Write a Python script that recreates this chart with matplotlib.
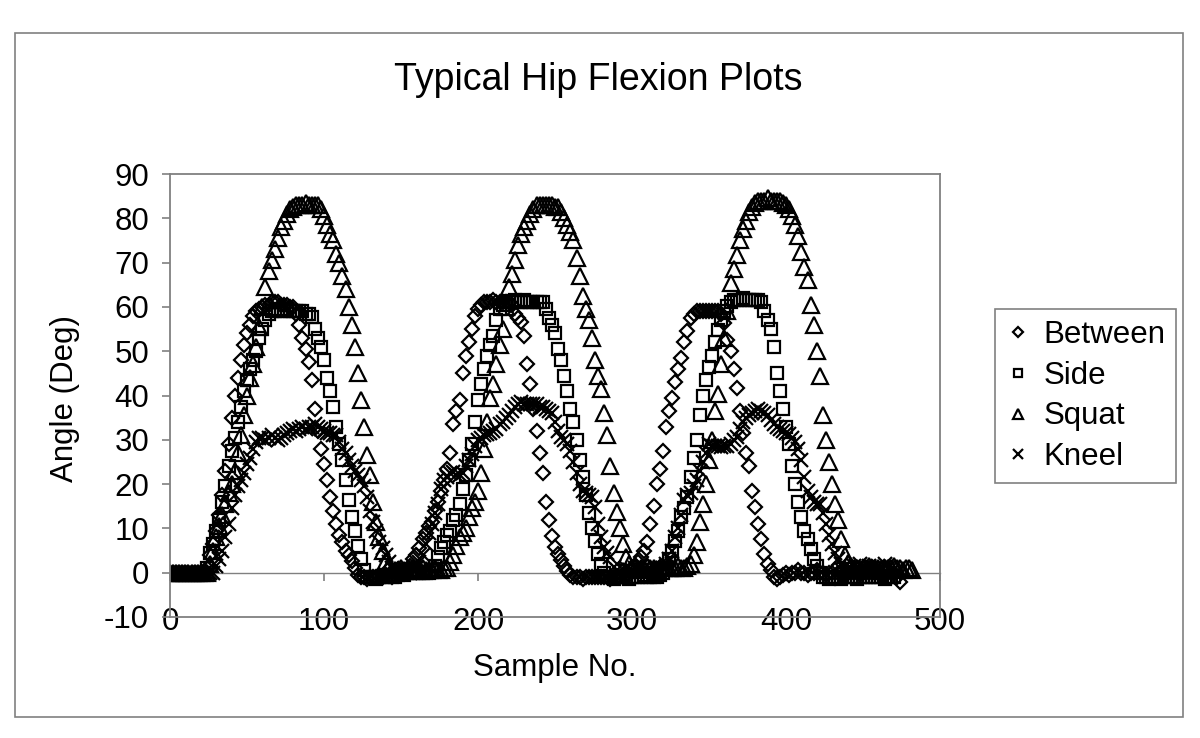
import numpy as np
import matplotlib
matplotlib.use("Agg")
import matplotlib.pyplot as plt
from matplotlib.patches import Rectangle

plt.rcParams['font.family'] = ['Liberation Sans', 'DejaVu Sans']
plt.rcParams['axes.unicode_minus'] = False

# ---- data: hip flexion angle (deg), one reading every 2 samples ----
STEP = 2

between = [
    0, 0, 0, 0, 0, 0, 0, 0, 0, 0,
    0, 0, 1, 4, 6.5, 9.5, 13, 17.5, 23, 29,
    35, 40, 44, 48, 51.5, 54, 56, 58, 59, 59.5,
    60, 60.5, 60.5, 61, 61, 61, 60.5, 60.5, 60.5, 60,
    60, 58.5, 56, 53, 50.6, 47.5, 43.4, 37, 32, 28,
    24.6, 21, 17, 14, 11, 8.5, 7, 5, 4, 2.7,
    1, -0.5, -1, -1, -1.5, -1, -1, -1, -0.5, -1,
    -0.5, -0.5, -1, 0, -0.5, 0, 0, 0.5, 1.5, 3,
    4, 5.5, 7.5, 9, 10.5, 11.5, 14, 16, 18.5, 21,
    23.5, 27, 33.5, 36.5, 38.9, 45, 49, 52, 55, 58,
    59.5, 60.5, 61, 61, 61, 61.5, 61, 61, 61, 61,
    61, 60.5, 58.5, 57.5, 56.5, 53.5, 47, 42.5, 37, 32,
    27, 22.5, 16, 12, 8.3, 5.7, 4.2, 2.8, 1.5, 0.3,
    -0.6, -1, -1, -1, -1.5, -1, -1, -1, -1, -1,
    -1, -1, -1, -1.5, -1, -1, -1, -0.5, -0.5, -0.5,
    0.5, 1.5, 2.5, 3.5, 5, 7, 11, 15, 20, 23.5,
    27.5, 33, 36.5, 39.5, 43, 46, 48.5, 52, 54.5, 57.5,
    58.5, 59, 59, 59, 59, 59, 59, 59, 59, 58.5,
    56.3, 52.5, 50, 46, 41.6, 36.6, 31.5, 27, 24, 18.5,
    14.8, 11, 7.6, 4.2, 2, 0.5, -1, -1.5, -1, -0.5,
    0, -0.5, 0, 0, 0.5, 0, 0, -0.5, 0, 0,
    0.5, 0, 0, -0.5, 0, 0, 0.5, 0, 0, -0.5,
    0, 0, 0.5, 0, -0.5, 0, 0, 0.5, 0, 0,
    0, -0.5, 0, 0.5, 0, 0, -1, -2,
]

side = [
    0, 0, 0, 0, 0, 0, 0, 0, 0, 0,
    0, 0, 1, 4.5, 6.5, 9.5, 12, 16, 19.5, 24,
    27.5, 30.5, 34, 37.5, 41, 43.5, 46, 48, 50, 53,
    55, 57, 58.5, 59, 59, 59.5, 59, 59, 59.5, 59,
    59, 59, 59, 59, 58.5, 58.5, 57.8, 55, 53, 51,
    48, 44, 41, 37.5, 33, 29, 25.5, 21, 16.5, 12.5,
    9.5, 6, 3, 0.5, -1, -1, -1, -1.5, -1, -1,
    -1, -0.5, -1, -1, -0.5, 0, -0.5, 0, 0, 0,
    0, 0, 0, 0, 0, 0.5, 1.5, 3.5, 5.5, 7,
    8.5, 9.5, 11.8, 13, 15.5, 19, 22, 25.5, 29, 34,
    39, 42.5, 46, 49, 51.5, 53.5, 57, 59.5, 60.5, 61,
    61, 61, 61.5, 61, 61, 61.5, 61, 61, 61, 61,
    61, 61, 59.5, 57.5, 55.9, 54, 50.5, 48, 44.5, 41,
    37, 34, 30, 25.5, 21.5, 17.5, 13.5, 10, 7.2, 4.2,
    1.9, 0, -1, -1, -1.5, -1, -1, -1, -1, -1.5,
    -1, -1, -1, -1, -0.5, -1, -1, -1, -1, -0.5,
    0, 1, 3, 5, 7.2, 9.5, 12.5, 14.5, 17, 21.5,
    26, 30, 35.5, 40, 43.5, 46.5, 49, 52, 54.8, 57,
    59, 60.3, 61, 61.5, 61.5, 61.5, 62, 61.5, 61.5, 61.5,
    61.5, 61.5, 61, 59, 57, 55, 51, 45, 41, 37,
    33, 29, 24, 20, 16, 12.5, 9.5, 7.5, 5.3, 3.2,
    1.5, 0, -1, -1, -1.5, -1, -1, -1, -1.5, -1,
    -1, -1, -1, -1.5, -1, -1, -1, -1, -1, -1,
    -1, -1, -1.5, -1, -1, -1,
]

squat = [
    0, 0, 0, 0, 0, 0, 0, 0, 0, 0,
    0, 0, 0, 2, 5, 8, 10.5, 13, 15.5, 18,
    20, 23, 27, 31, 35.5, 40, 44, 47, 51, 55.5,
    60, 64.5, 68, 70.5, 73, 75.5, 78, 79.5, 81, 82,
    82.5, 83, 83, 83, 83.5, 83, 83, 83, 83, 82,
    80.5, 78.5, 76.5, 75, 72, 70, 67, 64, 60, 56,
    51, 45, 39, 33, 26.5, 22, 16, 11.5, 8, 5,
    2.7, 1.5, 0.5, 0.5, 0.5, 1, 0.5, 0.5, 0.5, 1,
    0.5, 0.5, 1, 0.5, 0.5, 0.5, 1, 0.5, 0.5, 1,
    1, 2.5, 4, 6, 8, 9, 10.2, 12.5, 14.5, 16,
    18.5, 22.5, 28, 34, 39.5, 42.5, 47, 51.4, 55, 60,
    64.5, 67.5, 70.6, 74, 76.5, 78, 79.5, 81, 82, 83,
    83, 83, 83, 83, 83, 82.5, 82.5, 81.5, 80, 78.5,
    77, 75, 71, 67, 62.5, 59.5, 57, 53, 48, 44.5,
    41.5, 36, 31, 24, 18, 13.6, 10, 6.5, 3.5, 2,
    1, 1, 0.5, 1, 1, 1.5, 1, 1, 0.5, 1,
    1, 1.5, 1, 1, 1, 1.5, 1, 1, 1.5, 2,
    4, 7, 11.5, 15.5, 20, 25.5, 30, 36.6, 40.4, 47,
    53, 59, 65.5, 68.5, 71.7, 75, 77.5, 79.5, 81.5, 82.5,
    83.5, 84, 84, 84, 84.5, 84, 84, 84, 84, 83.5,
    83, 82, 80.5, 78.5, 76, 72.5, 69, 66, 60.5, 56,
    50, 44.5, 35.5, 30, 25, 20, 15.5, 11.8, 7.5, 4,
    2.3, 1.5, 1, 1, 0.5, 1, 1, 1.5, 1, 1,
    1, 0.5, 1, 1, 1, 1.5, 1, 1, 0.5, 1,
    1, 0.5,
]

kneel = [
    0, 0, 0, 0, 0, 0, 0, 0, 0, 0,
    0, 0, 0, 0, 0, 1.5, 3, 5, 8, 11,
    14.5, 17.5, 19.5, 21, 22.5, 24.5, 26, 28, 29.5, 30.5,
    30.5, 30, 30.5, 31, 30.5, 30, 30.5, 31, 31.5, 32,
    32.5, 32, 32.5, 33, 32.5, 33, 33, 33.5, 33, 32.5,
    32, 31.5, 31.5, 31, 31, 29.5, 28, 27, 25.5, 24,
    23, 22, 21, 19.5, 17, 14, 11.5, 9.5, 7, 5.5,
    4, 2.5, 1, 0.5, 0, 0.5, 0, 0.5, 0, 0.5,
    1, 2.5, 4, 6.5, 9, 11, 13.5, 15.5, 19, 21,
    21.6, 22.5, 22.7, 22, 22, 22.5, 24, 25.5, 26.8, 28.5,
    30, 30.5, 31, 31.4, 31.5, 32, 32.5, 33.5, 34, 35,
    35.5, 36.5, 37.5, 38, 38.5, 38, 38, 38, 38, 38,
    37.5, 37.5, 37, 36.5, 36, 34, 32, 30.6, 30, 29,
    27.5, 25, 22.5, 20, 18.5, 18, 17.5, 17, 14.8, 11,
    8, 5.7, 4.5, 3.5, 1.2, 0.5, 0, 0.5, 1, 0.5,
    0.5, 1, 0.5, 1.5, 1, 0.5, 1, 1.5, 1, 0.5,
    1, 2, 3, 5, 8, 10, 13, 16.5, 17.5, 18,
    19.5, 21, 23, 25, 27, 29, 28.7, 28.5, 28.5, 28.4,
    28.5, 28.7, 29, 30, 30.6, 32.5, 34, 35, 35.5, 36,
    36.5, 37, 36.5, 36, 35.5, 34.5, 33.6, 33, 32.5, 32,
    31.5, 31.4, 30.5, 29.5, 28, 25.5, 21.5, 18.5, 17, 16,
    15.5, 15.5, 13.5, 11, 8.5, 6.5, 4.5, 3, 2, 1.5,
    1, 1, 1.5, 1, 2, 1, 1, 1.5, 1, 1,
    1.5, 1, 2, 1,
]

series = [
    ("Between", between, "D", 7.5),
    ("Side", side, "s", 8.5),
    ("Squat", squat, "^", 11),
    ("Kneel", kneel, "x", 10),
]

GRAY = "#808080"

fig = plt.figure(figsize=(12, 7.38), dpi=100)
fig.patches.append(Rectangle((15 / 1200, 1 - 717 / 738), 1168 / 1200, 684 / 738,
                             transform=fig.transFigure, fill=False,
                             edgecolor=GRAY, linewidth=1.2))

ax = fig.add_axes([170 / 1200, 1 - 617 / 738, 770 / 1200, 443 / 738])

for name, vals, mk, ms in series:
    sample_no = np.arange(len(vals)) * STEP
    ax.plot(sample_no, vals, linestyle="none", marker=mk, markersize=ms,
            markerfacecolor="none", markeredgecolor="black", markeredgewidth=1.6,
            label=name)

ax.set_xlim(0, 500)
ax.set_ylim(-10, 90)
ax.set_xticks(range(0, 501, 100))
ax.set_yticks(range(-10, 91, 10))

for sp in ax.spines.values():
    sp.set_color(GRAY)
    sp.set_linewidth(1.3)

ax.tick_params(axis="y", direction="out", length=6, width=1.2, color=GRAY,
               labelsize=22.5, pad=9)
ax.tick_params(axis="x", length=0, labelsize=22.5, pad=-7)

# horizontal axis line crossing at y = 0 (with its tick marks)
sec = ax.secondary_xaxis(0.1)
sec.set_xticks(range(0, 501, 100))
sec.tick_params(axis="x", direction="out", length=6, width=1.2, color=GRAY,
                labelbottom=False)
sec.spines["bottom"].set_color(GRAY)
sec.spines["bottom"].set_linewidth(1.0)

fig.text(598 / 1200, 1 - 80 / 738, "Typical Hip Flexion Plots", fontsize=27,
         ha="center", va="center")
fig.text(555 / 1200, 1 - 668 / 738, "Sample No.", fontsize=22.5,
         ha="center", va="center")
fig.text(65 / 1200, 1 - 398 / 738, "Angle (Deg)", fontsize=22.5,
         ha="center", va="center", rotation=90)

leg = fig.legend(loc="center left", bbox_to_anchor=(995 / 1200, 1 - 396 / 738),
                 fontsize=22.5, markerscale=0.65, frameon=True, fancybox=False,
                 edgecolor=GRAY, framealpha=1, labelspacing=0.35,
                 handlelength=0.8, handletextpad=0.4, borderpad=0.35,
                 borderaxespad=0)
leg.get_frame().set_linewidth(1.2)

fig.savefig("out.png", dpi=100)
